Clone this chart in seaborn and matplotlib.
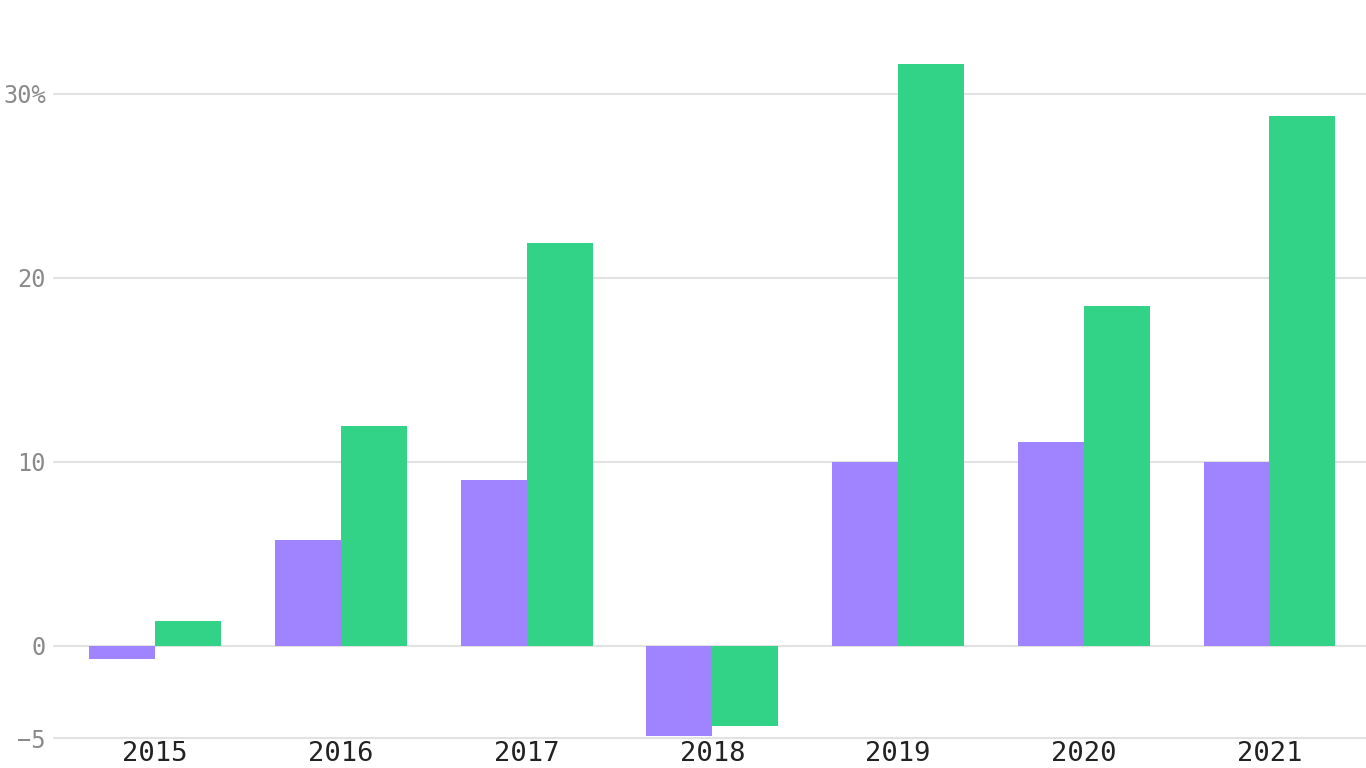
import matplotlib
matplotlib.use("Agg")
import matplotlib.pyplot as plt
import seaborn as sns
import pandas as pd

years = ["2015", "2016", "2017", "2018", "2019", "2020", "2021"]
series_a = [-0.7, 5.75, 9.0, -4.9, 10.0, 11.1, 10.0]
series_b = [1.35, 11.95, 21.9, -4.35, 31.6, 18.45, 28.8]
series_names = ["A", "B"]
colors = ["#a083ff", "#33d387"]

df = pd.DataFrame({
    "year": years * 2,
    "value": series_a + series_b,
    "series": [series_names[0]] * len(years) + [series_names[1]] * len(years),
})

sns.set_theme(style="white")
plt.rcParams["font.family"] = ["DejaVu Sans Mono", "DejaVu Sans"]

fig = plt.figure(figsize=(13.66, 7.68), dpi=100)
ax = fig.add_axes([54 / 1366, 30 / 768, 1312 / 1366, 738 / 768])

sns.barplot(data=df, x="year", y="value", hue="series", palette=colors,
            width=0.71, saturation=1, ax=ax, legend=False, linewidth=0,
            errorbar=None)

ax.set_ylim(-5, 35.1)
ax.set_xlim(-0.545, 6.52)
ax.set_yticks([-5, 0, 10, 20, 30])
ax.set_yticklabels(["\u22125", "0", "10", "20", "30%"])
ax.yaxis.grid(True, color="#e2e2e2", linewidth=1.5)
for gl in ax.get_ygridlines():
    gl.set_clip_on(False)
ax.set_axisbelow(True)
for s in ax.spines.values():
    s.set_visible(False)
ax.tick_params(axis="y", length=0, pad=6, labelsize=17, labelcolor="#8a8a8a")
ax.tick_params(axis="x", length=0, pad=2, labelsize=19.5, labelcolor="#222222")
ax.set_xlabel("")
ax.set_ylabel("")

fig.savefig("out.png", dpi=100)
